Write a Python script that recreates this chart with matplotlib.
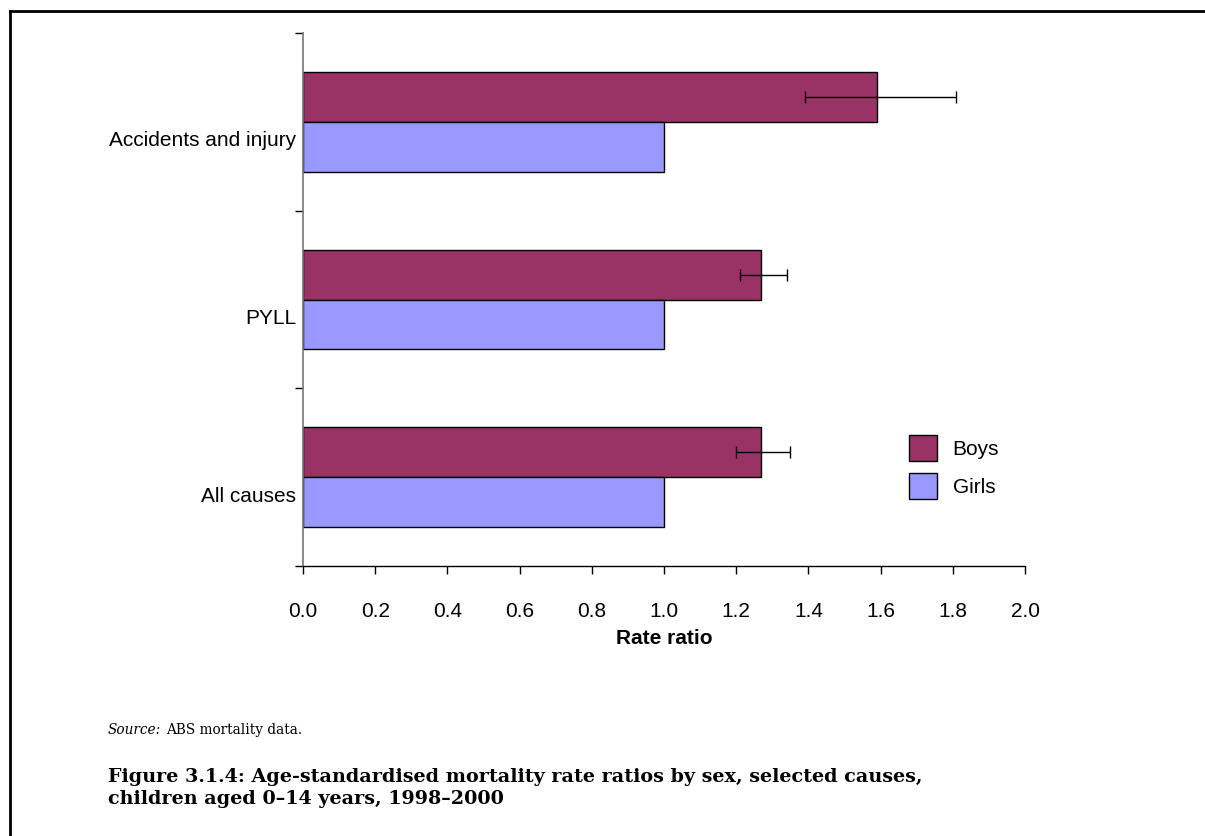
import matplotlib
matplotlib.use("Agg")
import matplotlib.pyplot as plt
from matplotlib.lines import Line2D
from matplotlib.patches import Patch
from matplotlib.transforms import ScaledTranslation
import numpy as np

# Data
categories = ["All causes", "PYLL", "Accidents and injury"]
boys = [1.27, 1.27, 1.59]
girls = [1.0, 1.0, 1.0]
boys_ci_low = [1.20, 1.21, 1.39]
boys_ci_high = [1.35, 1.34, 1.81]
x_ticks = [0.0, 0.2, 0.4, 0.6, 0.8, 1.0, 1.2, 1.4, 1.6, 1.8, 2.0]

BOYS_COLOR = "#993366"
GIRLS_COLOR = "#9999FF"
SERIF = ["DejaVu Serif", "Liberation Serif"]

plt.rcParams["font.family"] = ["Liberation Sans", "DejaVu Sans"]

W, H = 1205, 836
fig = plt.figure(figsize=(W / 100, H / 100), dpi=100)
ax = fig.add_axes([303 / W, 1 - 566 / H, (1025 - 303) / W, (566 - 33) / H])

y = np.arange(len(categories))
h = 0.28
ax.barh(y + h / 2, boys, height=h, color=BOYS_COLOR, edgecolor="black", linewidth=1.0, label="Boys")
ax.barh(y - h / 2, girls, height=h, color=GIRLS_COLOR, edgecolor="black", linewidth=1.0, label="Girls")

err_lo = np.array(boys) - np.array(boys_ci_low)
err_hi = np.array(boys_ci_high) - np.array(boys)
ax.errorbar(boys, y + h / 2, xerr=[err_lo, err_hi], fmt="none", ecolor="black",
            elinewidth=1.0, capsize=4, capthick=1.0)

ax.set_xlim(0, 2.0)
ax.set_ylim(-0.5, 2.5)
ax.set_xticks(x_ticks)
ax.set_xticklabels([f"{v:.1f}" for v in x_ticks], fontsize=15)
ax.tick_params(axis="x", direction="out", length=6, width=1, pad=20, color="black")

# Category labels with no tick marks; separators as minor ticks
ax.set_yticks(y)
ax.set_yticklabels(categories, fontsize=15)
ax.tick_params(axis="y", which="major", length=0, pad=5)
ax.set_yticks([-0.5, 0.5, 1.5, 2.5], minor=True)
ax.tick_params(axis="y", which="minor", direction="out", length=6, width=1, color="black")
offset = ScaledTranslation(0, -0.17, fig.dpi_scale_trans)
for lab in ax.get_yticklabels():
    lab.set_transform(lab.get_transform() + offset)

ax.set_xlabel("Rate ratio", fontsize=15, fontweight="bold", labelpad=6)

for s in ("top", "right"):
    ax.spines[s].set_visible(False)
ax.spines["left"].set_color("#777777")
ax.spines["left"].set_linewidth(1.2)
ax.spines["bottom"].set_color("black")
ax.spines["bottom"].set_linewidth(1.0)

handles = [Patch(facecolor=BOYS_COLOR, edgecolor="black", linewidth=1.0),
           Patch(facecolor=GIRLS_COLOR, edgecolor="black", linewidth=1.0)]
fig.legend(handles, ["Boys", "Girls"], loc="upper left",
           bbox_to_anchor=(890 / W, 1 - 416 / H), frameon=False, fontsize=15,
           handlelength=1.35, handleheight=1.55, handletextpad=0.75, labelspacing=0.6)

# Source note and caption
src_y = 1 - 730 / H
t1 = fig.text(108 / W, src_y, "Source:", fontsize=9.8, style="italic",
              family=SERIF, va="center")
fig.canvas.draw()
bb = t1.get_window_extent()
fig.text((bb.x1 + 5) / W, src_y, "ABS mortality data.", fontsize=9.8,
         family=SERIF, va="center")
fig.text(108 / W, 1 - 788 / H,
         "Figure 3.1.4: Age-standardised mortality rate ratios by sex, selected causes,\n"
         "children aged 0\u201314 years, 1998\u20132000",
         fontsize=13.8, fontweight="bold", family=SERIF,
         va="center", linespacing=1.25)

# Page frame: top and left rules
fig.add_artist(Line2D([9.5 / W, 1.0], [1 - 11 / H, 1 - 11 / H],
                      transform=fig.transFigure, color="black", linewidth=2))
fig.add_artist(Line2D([9.5 / W, 9.5 / W], [0.0, 1 - 11 / H],
                      transform=fig.transFigure, color="black", linewidth=2))

fig.savefig("out.png", dpi=100)
